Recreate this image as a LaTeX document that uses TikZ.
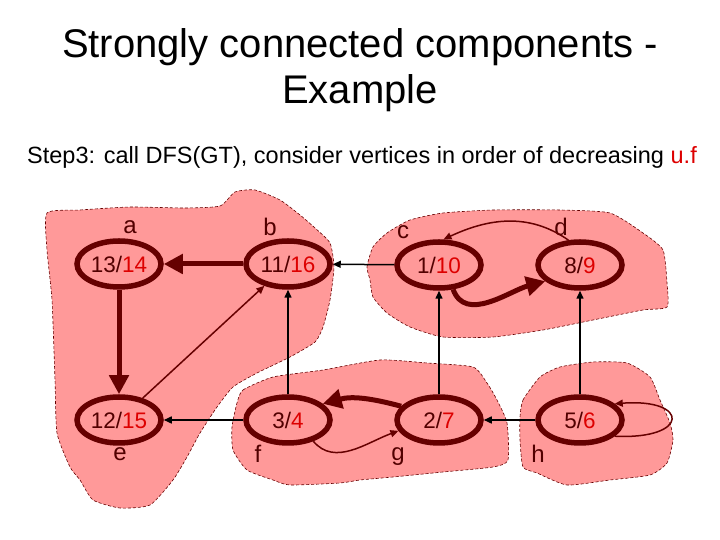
\documentclass[tikz,border=0pt]{standalone}
\usepackage{fontspec}
\setmainfont{Liberation Sans}
\usetikzlibrary{arrows.meta, shapes.geometric}
\definecolor{scc}{HTML}{FF9999}
\definecolor{vtx}{HTML}{660000}
\definecolor{fin}{HTML}{DD0000}
\newcommand{\ftime}[1]{\textcolor{fin}{#1}}

\begin{document}
\begin{tikzpicture}[
    x=1pt, y=1pt,
    vertex/.style={
        ellipse, draw=vtx, line width=5.5pt,
        minimum width=84pt, minimum height=46pt, inner sep=0pt,
        font=\fontsize{22.5}{25}\selectfont, text=vtx!80!black
    },
    lbl/.style={font=\fontsize{24}{28}\selectfont, text=vtx!80!black, inner sep=0pt},
    region/.style={fill=scc, draw=vtx, line width=0.6pt, dash pattern=on 3pt off 2pt},
    tree/.style={-{Triangle[length=19pt,width=19pt]}, line width=5pt, vtx},
    back/.style={-{Triangle[length=8pt,width=7pt]}, line width=1.5pt, black},
    curv/.style={back, vtx},
]
\useasboundingbox (0,0) rectangle (720,540);

% ── Title ────────────────────────────
\node[align=center, font=\fontsize{40}{46}\selectfont] (title) at (360,470)
    {Strongly connected components -\\Example};
\node[font=\fontsize{23.5}{26}\selectfont] (step) at (362,383)
    {Step3: call DFS(GT), consider vertices in order of decreasing \ftime{u.f}};

% ── Components ───────────────────────
\draw[region] plot[smooth cycle, tension=0.35] coordinates {
    (47,327) (80,330) (130,333) (185,332) (220,334) (235,348) (255,350)
    (280,340) (300,325) (315,312) (330,297) (334,273) (330,240) (323,213)
    (315,198) (290,183) (257,167) (233,153) (217,133) (200,107) (187,83)
    (173,60) (150,35) (120,32) (93,40) (80,60) (70,73) (57,107) (55,160)
    (52,240) (47,290)};
\draw[region] plot[smooth cycle, tension=0.35] coordinates {
    (370,260) (367,273) (373,293) (387,307) (410,320) (443,327) (493,330)
    (560,330) (610,327) (643,307) (663,290) (667,257) (667,233) (643,230)
    (593,220) (543,210) (493,203) (443,203) (410,213) (387,227) (373,243)};
\draw[region] plot[smooth cycle, tension=0.35] coordinates {
    (237,137) (243,150) (273,163) (323,170) (380,180) (427,177) (473,173)
    (487,157) (497,140) (507,117) (508,80) (493,73) (443,68) (393,63)
    (360,60) (340,57) (290,55) (273,60) (247,70) (233,90) (232,113)};
\draw[region] plot[smooth cycle, tension=0.35] coordinates {
    (520,123) (523,140) (540,163) (560,173) (593,178) (627,177) (650,163)
    (660,140) (670,117) (673,100) (667,77) (650,65) (610,60) (567,55)
    (537,67) (523,73) (520,100)};

% ── Vertices ─────────────────────────
\node[vertex] (va) at (119,276) {13/\ftime{14}};
\node[vertex] (vb) at (288,276) {11/\ftime{16}};
\node[vertex] (vc) at (439,275) {1/\ftime{10}};
\node[vertex] (vd) at (580,275) {8/\ftime{9}};
\node[vertex] (ve) at (119,120) {12/\ftime{15}};
\node[vertex] (vf) at (288,120) {3/\ftime{4}};
\node[vertex] (vg) at (439,120) {2/\ftime{7}};
\node[vertex] (vh) at (580,120) {5/\ftime{6}};

% ── Labels ───────────────────────────
\node[lbl] (la) at (130,313) {a};
\node[lbl] (lb) at (270,313) {b};
\node[lbl] (lc) at (403,308) {c};
\node[lbl] (ld) at (561,313) {d};
\node[lbl] (le) at (120,86) {e};
\node[lbl] (lf) at (258,86) {f};
\node[lbl] (lg) at (398,83) {g};
\node[lbl] (lh) at (538,86) {h};

% ── DFS tree edges (thick) ───────────
\draw[tree] (vb) -- (va);
\draw[tree] (va) -- (ve);
\draw[tree] (vc.-60) to[out=-70, in=195] (vd.205);
\draw[tree] (vg.160) to[out=165, in=15] (vf.25);

% ── Other edges ──────────────────────
\draw[back] (vc) -- (vb);
\draw[curv] (ve) -- (vb);
\draw[back] (vf) -- (vb);
\draw[back] (vg) -- (vc);
\draw[back] (vh) -- (vd);
\draw[back] (vf) -- (ve);
\draw[back] (vh) -- (vg);
\draw[curv] (vd.115) to[out=145, in=25] (vc.80);
\draw[curv] (vf.-40) to[out=-50, in=200] (vg.195);
\draw[curv] (vh.-25) .. controls (690,100) and (690,142) .. (vh.25);

\end{tikzpicture}
\end{document}
